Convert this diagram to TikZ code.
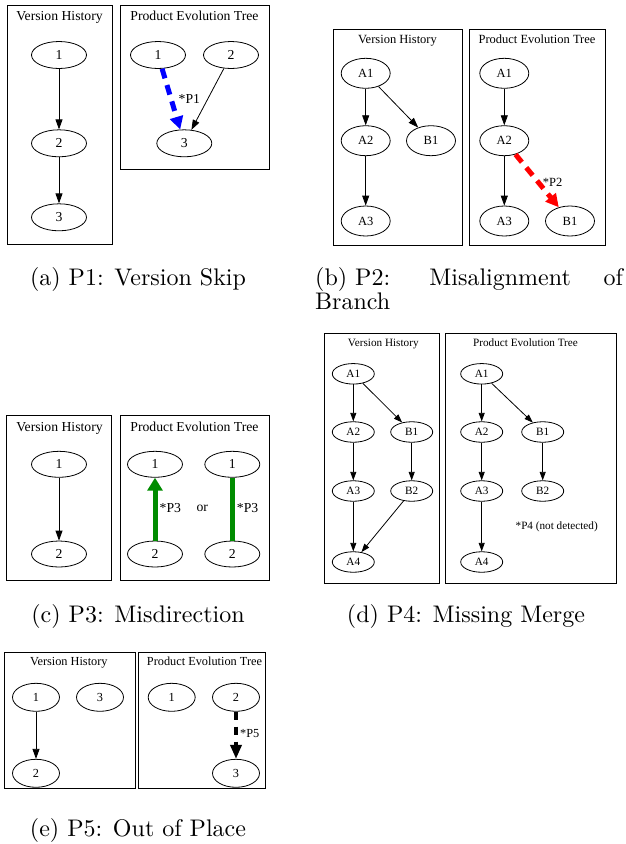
\documentclass[tikz,border=0pt]{standalone}
\usepackage{fontspec}
\newfontfamily\gvfont{Liberation Serif}
\newfontfamily\capfont{lmroman10-regular.otf}
\usetikzlibrary{arrows.meta,shapes.geometric}

\definecolor{pgreen}{RGB}{0,140,0}

\tikzset{
  frame/.style={draw=black, line width=0.9pt},
  vnode/.style={draw=black, ellipse, inner sep=0pt, line width=0.8pt},
  nA/.style={vnode, minimum width=55pt, minimum height=27pt, font=\gvfont\fontsize{13.7}{16}\selectfont},
  nB/.style={vnode, minimum width=49pt, minimum height=30pt, font=\gvfont\fontsize{12.5}{15}\selectfont},
  nD/.style={vnode, minimum width=42pt, minimum height=20.5pt, font=\gvfont\fontsize{11.2}{13}\selectfont},
  nE/.style={vnode, minimum width=47pt, minimum height=28pt, font=\gvfont\fontsize{12.3}{15}\selectfont},
  titleA/.style={anchor=base, inner sep=0pt, font=\gvfont\fontsize{13.7}{16}\selectfont},
  titleB/.style={anchor=base, inner sep=0pt, font=\gvfont\fontsize{12.5}{15}\selectfont},
  titleD/.style={anchor=base, inner sep=0pt, font=\gvfont\fontsize{11.2}{13}\selectfont},
  titleE/.style={anchor=base, inner sep=0pt, font=\gvfont\fontsize{12.3}{15}\selectfont},
  edge/.style={draw=black, line width=0.8pt, -{Triangle[length=10pt,width=7pt]}},
  edgeD/.style={draw=black, line width=0.8pt, -{Triangle[length=8.5pt,width=6pt]}},
  badedge/.style={line width=5pt, dash pattern=on 10pt off 7pt, -{Triangle[length=13pt,width=13pt]}},
  caption/.style={inner sep=0pt, font=\capfont\fontsize{24}{28.8}\selectfont}
}

\begin{document}
\begin{tikzpicture}[x=1pt, y=-1pt]
\useasboundingbox (0,0) rectangle (626,844);

% ---------- (a) P1: Version Skip ----------
\draw[frame] (7,5) rectangle (112,244);
\node[titleA] (ta1) at (59.5,20.7) {Version History};
\node[nA] (a1) at (59,55) {1};
\node[nA] (a2) at (59,143.3) {2};
\node[nA] (a3) at (59,217.3) {3};
\draw[edge] (a1) -- (a2);
\draw[edge] (a2) -- (a3);

\draw[frame] (120.7,5) rectangle (269.3,169.3);
\node[titleA] (ta2) at (194.5,20.7) {Product Evolution Tree};
\node[nA] (b1) at (158,55) {1};
\node[nA] (b2) at (231,55) {2};
\node[nA] (b3) at (184.3,143.3) {3};
\draw[badedge, blue] (b1) -- (b3);
\draw[edge] (b2) -- (b3);
\node[anchor=west, inner sep=0pt, font=\gvfont\fontsize{13.7}{16}\selectfont] (lp1) at (178.5,99) {*P1};

\node[caption, anchor=base] (capa) at (138,285.5) {(a) P1: Version Skip};

% ---------- (b) P2: Misalignment of Branch ----------
\draw[frame] (333.3,29.3) rectangle (462.7,245);
\node[titleB] (tb1) at (397.5,43) {Version History};
\node[nB] (c1) at (365.7,73.3) {A1};
\node[nB] (c2) at (365.7,140.7) {A2};
\node[nB] (c3) at (431,140.7) {B1};
\node[nB] (c4) at (365.7,221) {A3};
\draw[edge] (c1) -- (c2);
\draw[edge] (c1) -- (c3);
\draw[edge] (c2) -- (c4);

\draw[frame] (469.7,29.3) rectangle (605,245);
\node[titleB] (tb2) at (537,43) {Product Evolution Tree};
\node[nB] (d1) at (504.3,73.3) {A1};
\node[nB] (d2) at (504.3,140.7) {A2};
\node[nB] (d3) at (504.3,221) {A3};
\node[nB] (d4) at (570,221) {B1};
\draw[edge] (d1) -- (d2);
\draw[edge] (d2) -- (d3);
\draw[badedge, red] (d2) -- (d4);
\node[anchor=west, inner sep=0pt, font=\gvfont\fontsize{12.5}{15}\selectfont] (lp2) at (542.7,182.3) {*P2};

\node[caption, anchor=base west] (capb1) at (315,285.5)
  {\makebox[307.7pt][s]{(b) P2:\hspace{0pt plus 1.2fil}Misalignment\hspace{0pt plus 1fil}of}};
\node[caption, anchor=base west] (capb2) at (315,309.5) {Branch};

% ---------- (c) P3: Misdirection ----------
\draw[frame] (6.7,415) rectangle (111.7,580);
\node[titleA] (tc1) at (59.5,431) {Version History};
\node[nA, minimum height=26pt] (e1) at (59,464.3) {1};
\node[nA, minimum height=26pt] (e2) at (59,554) {2};
\draw[edge] (e1) -- (e2);

\draw[frame] (120.7,415) rectangle (269.3,580);
\node[titleA] (tc2) at (194.5,431) {Product Evolution Tree};
\node[nA, minimum height=26pt] (f1) at (155,464.3) {1};
\node[nA, minimum height=26pt] (f2) at (155,554) {2};
\node[nA, minimum height=26pt] (f3) at (232.3,464.3) {1};
\node[nA, minimum height=26pt] (f4) at (232.3,554) {2};
\draw[pgreen, line width=5pt, -{Triangle[length=13pt,width=15pt]}] (f2) -- (f1);
\draw[pgreen, line width=5pt] (f4) -- (f3);
\node[anchor=west, inner sep=0pt, font=\gvfont\fontsize{13.7}{16}\selectfont] (lp3a) at (159.5,508.3) {*P3};
\node[inner sep=0pt, font=\gvfont\fontsize{13.7}{16}\selectfont] (lor) at (202.3,508.3) {or};
\node[anchor=west, inner sep=0pt, font=\gvfont\fontsize{13.7}{16}\selectfont] (lp3b) at (236.7,508.3) {*P3};

\node[caption, anchor=base] (capc) at (138,622) {(c) P3: Misdirection};

% ---------- (d) P4: Missing Merge ----------
\draw[frame] (324,333.3) rectangle (439.3,583.3);
\node[titleD] (td1) at (383.3,346.7) {Version History};
\node[nD] (g1) at (353.3,373.8) {A1};
\node[nD] (g2) at (353.3,432) {A2};
\node[nD] (g3) at (411.7,432) {B1};
\node[nD] (g4) at (353.3,491) {A3};
\node[nD] (g5) at (411.7,491) {B2};
\node[nD] (g6) at (353.3,562) {A4};
\draw[edgeD] (g1) -- (g2);
\draw[edgeD] (g1) -- (g3);
\draw[edgeD] (g2) -- (g4);
\draw[edgeD] (g3) -- (g5);
\draw[edgeD] (g4) -- (g6);
\draw[edgeD] (g5) -- (g6);

\draw[frame] (445.7,333.3) rectangle (616.7,583.3);
\node[titleD] (td2) at (525.5,346.7) {Product Evolution Tree};
\node[nD] (h1) at (481.7,373.8) {A1};
\node[nD] (h2) at (481.7,432) {A2};
\node[nD] (h3) at (542.7,432) {B1};
\node[nD] (h4) at (481.7,491) {A3};
\node[nD] (h5) at (542.7,491) {B2};
\node[nD] (h6) at (481.7,562) {A4};
\draw[edgeD] (h1) -- (h2);
\draw[edgeD] (h1) -- (h3);
\draw[edgeD] (h2) -- (h4);
\draw[edgeD] (h3) -- (h5);
\draw[edgeD] (h4) -- (h6);
\node[inner sep=0pt, font=\gvfont\fontsize{11.2}{13}\selectfont] (lp4) at (556.7,526.7) {*P4 (not detected)};

\node[caption, anchor=base] (capd) at (466,622) {(d) P4: Missing Merge};

% ---------- (e) P5: Out of Place ----------
\draw[frame] (4,652.3) rectangle (135,788.3);
\node[titleE] (te1) at (68.8,665.7) {Version History};
\node[nE] (k1) at (36,697.3) {1};
\node[nE] (k3) at (100,697.3) {3};
\node[nE] (k2) at (36,773.3) {2};
\draw[edge] (k1) -- (k2);

\draw[frame] (138.3,652.3) rectangle (265,788.3);
\node[titleE] (te2) at (204.5,665.7) {Product Evolution Tree};
\node[nE] (m1) at (171.7,697.3) {1};
\node[nE] (m2) at (236,697.3) {2};
\node[nE] (m3) at (236,773.3) {3};
\draw[black, line width=4.5pt, dash pattern=on 8pt off 7pt, -{Triangle[length=14pt,width=11pt]}] (m2) -- (m3);
\node[anchor=west, inner sep=0pt, font=\gvfont\fontsize{12.3}{15}\selectfont] (lp5) at (240,733.3) {*P5};

\node[caption, anchor=base] (cape) at (138,836.5) {(e) P5: Out of Place};
\end{tikzpicture}
\end{document}
